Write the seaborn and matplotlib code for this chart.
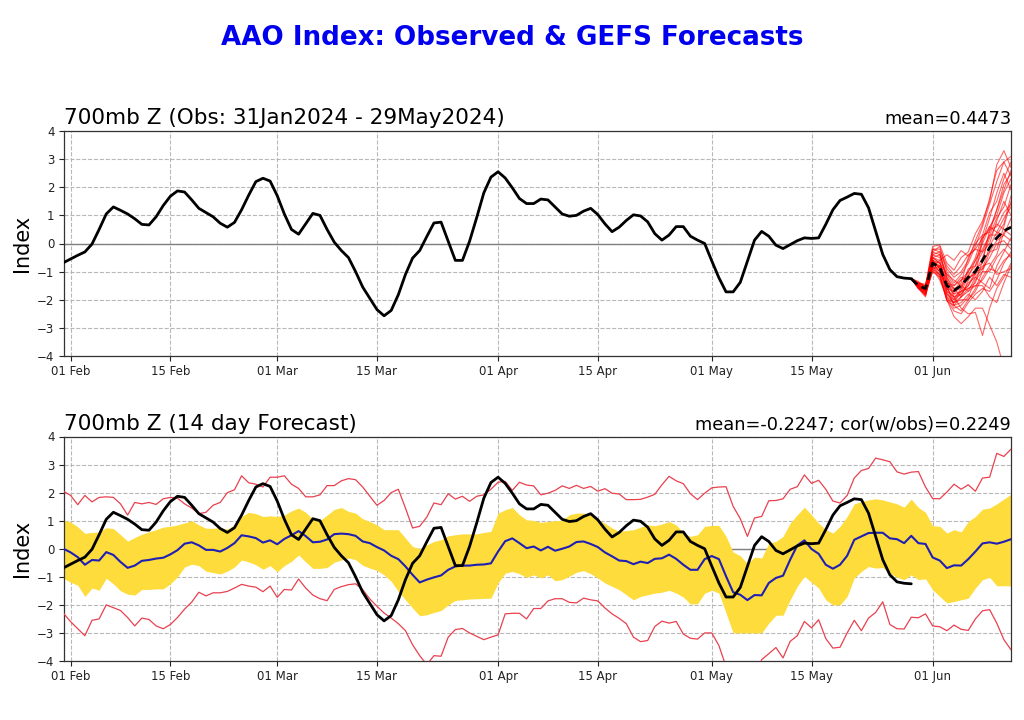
# AAO index: observed and GEFS forecasts

import matplotlib
matplotlib.use("Agg")
import matplotlib.pyplot as plt
import matplotlib.dates as mdates
import seaborn as sns
import pandas as pd

# daily values, first entry is 31 Jan 2024
obs = [-0.68, -0.55, -0.42, -0.3, -0.02, 0.5, 1.05, 1.3, 1.18, 1.05, 0.88, 0.68, 0.66, 0.95, 1.35, 1.68, 1.87, 1.83, 1.55, 1.25,
       1.1, 0.95, 0.72, 0.58, 0.75, 1.2, 1.72, 2.2, 2.32, 2.22, 1.7, 1.05, 0.5, 0.33, 0.7, 1.07, 1.0, 0.5, 0.05, -0.25,
       -0.5, -1.0, -1.55, -1.95, -2.35, -2.57, -2.38, -1.82, -1.1, -0.52, -0.25, 0.25, 0.73, 0.76, 0.08, -0.6, -0.6, 0.08, 0.92, 1.8,
       2.36, 2.55, 2.33, 1.98, 1.6, 1.42, 1.42, 1.58, 1.55, 1.3, 1.05, 0.97, 1.0, 1.15, 1.25, 1.03, 0.7, 0.42, 0.58, 0.82,
       1.02, 0.98, 0.77, 0.35, 0.12, 0.3, 0.6, 0.6, 0.26, 0.12, 0.0, -0.62, -1.22, -1.72, -1.72, -1.38, -0.63, 0.12, 0.43, 0.26,
       -0.06, -0.18, -0.04, 0.1, 0.2, 0.18, 0.2, 0.68, 1.2, 1.53, 1.65, 1.78, 1.75, 1.27, 0.44, -0.39, -0.93, -1.18, -1.23, -1.25]

fcst_mean = [0.0, -0.13, -0.3, -0.57, -0.4, -0.42, -0.12, -0.22, -0.47, -0.68, -0.6, -0.43, -0.4, -0.35, -0.32, -0.2, -0.05, 0.18, 0.23, 0.12,
             -0.04, -0.04, -0.1, 0.03, 0.2, 0.48, 0.44, 0.38, 0.22, 0.3, 0.16, 0.35, 0.48, 0.63, 0.45, 0.23, 0.25, 0.33, 0.52, 0.54,
             0.52, 0.46, 0.26, 0.2, 0.06, -0.06, -0.25, -0.37, -0.63, -0.93, -1.2, -1.1, -1.02, -0.95, -0.75, -0.63, -0.6, -0.6, -0.57, -0.56,
             -0.52, -0.1, 0.27, 0.37, 0.2, 0.02, 0.08, -0.06, 0.07, -0.07, 0.0, 0.08, 0.24, 0.26, 0.17, 0.06, -0.13, -0.27, -0.42, -0.44,
             -0.55, -0.46, -0.51, -0.36, -0.34, -0.21, -0.36, -0.57, -0.75, -0.75, -0.37, -0.26, -0.37, -0.98, -1.55, -1.64, -1.83, -1.65, -1.66, -1.22,
             -1.04, -0.96, -0.39, 0.12, 0.3, -0.01, -0.18, -0.57, -0.71, -0.57, -0.25, 0.32, 0.44, 0.56, 0.57, 0.57, 0.37, 0.34, 0.2, 0.46,
             0.2, 0.17, -0.31, -0.42, -0.69, -0.59, -0.6, -0.37, -0.1, 0.19, 0.23, 0.18, 0.25, 0.34]

fcst_max = [2.05, 1.9, 1.57, 1.9, 1.67, 1.83, 1.85, 1.83, 1.6, 1.2, 1.65, 1.6, 1.65, 1.58, 1.78, 1.83, 1.8, 1.6, 1.45, 1.25,
            1.3, 1.55, 1.65, 2.0, 2.1, 2.6, 2.35, 2.3, 2.2, 2.55, 2.55, 2.6, 2.3, 2.15, 1.85, 1.85, 1.92, 2.25, 2.25, 2.42,
            2.5, 2.46, 2.2, 1.87, 1.55, 1.72, 2.0, 2.12, 1.45, 0.74, 0.8, 1.13, 1.63, 1.57, 1.96, 1.77, 1.87, 1.69, 1.87, 1.92,
            2.12, 2.37, 2.4, 2.08, 2.37, 2.27, 2.24, 1.92, 1.98, 2.08, 2.24, 2.15, 2.26, 2.15, 2.22, 2.05, 2.14, 1.98, 1.95, 1.75,
            1.75, 1.76, 1.84, 1.94, 2.28, 2.58, 2.42, 2.32, 1.96, 1.75, 1.98, 2.17, 2.2, 2.21, 1.51, 1.07, 0.44, 1.1, 1.15, 1.71,
            1.72, 1.78, 2.12, 2.21, 2.63, 2.33, 2.44, 2.12, 1.7, 1.63, 1.9, 2.52, 2.79, 2.86, 3.23, 3.17, 3.1, 2.74, 2.66, 2.73,
            2.75, 2.2, 1.79, 1.78, 2.02, 2.3, 2.12, 2.28, 2.05, 2.52, 2.55, 3.4, 3.29, 3.55]

fcst_min = [-2.3, -2.6, -2.85, -3.1, -2.55, -2.5, -2.0, -2.1, -2.2, -2.45, -2.75, -2.47, -2.52, -2.75, -2.85, -2.7, -2.45, -2.15, -1.9, -1.55,
            -1.68, -1.57, -1.57, -1.52, -1.4, -1.27, -1.33, -1.37, -1.53, -1.33, -1.73, -1.45, -1.47, -1.08, -1.4, -1.65, -1.78, -1.85, -1.45, -1.35,
            -1.28, -1.25, -1.46, -1.79, -2.05, -2.29, -2.47, -2.67, -2.92, -3.42, -3.81, -4.13, -3.81, -3.83, -3.15, -2.88, -2.84, -3.0, -3.12, -3.24,
            -3.15, -3.07, -2.32, -2.3, -2.3, -2.5, -2.13, -2.13, -1.86, -1.78, -1.78, -1.91, -1.93, -1.76, -1.82, -1.86, -2.11, -2.32, -2.48, -2.67,
            -3.15, -3.31, -3.27, -2.77, -2.58, -2.65, -2.59, -3.04, -3.19, -3.22, -3.0, -3.0, -3.45, -4.2, -4.6, -5.0, -5.0, -4.8, -3.95, -3.74,
            -3.52, -3.89, -3.3, -3.1, -2.59, -2.82, -2.53, -3.2, -3.54, -3.51, -3.0, -2.55, -2.92, -2.47, -2.27, -1.89, -2.7, -2.85, -2.86, -2.44,
            -2.46, -2.32, -2.75, -2.78, -2.92, -2.72, -2.87, -2.91, -2.5, -2.21, -2.17, -2.65, -3.24, -3.6]

band_upper = [1.02, 0.95, 0.78, 0.55, 0.58, 0.6, 0.75, 0.72, 0.5, 0.27, 0.4, 0.52, 0.6, 0.68, 0.77, 0.8, 0.85, 0.92, 1.0, 0.85,
              0.73, 0.73, 0.75, 0.7, 0.85, 1.15, 1.3, 1.25, 1.15, 1.17, 1.15, 1.2, 1.35, 1.45, 1.3, 1.05, 1.0, 1.2, 1.4, 1.47,
              1.33, 1.27, 1.07, 0.97, 0.85, 0.68, 0.68, 0.68, 0.38, 0.08, 0.0, 0.14, 0.26, 0.32, 0.46, 0.5, 0.53, 0.53, 0.53, 0.58,
              0.62, 1.27, 1.39, 1.47, 1.21, 1.03, 1.01, 0.94, 0.97, 1.0, 1.01, 1.21, 1.27, 1.27, 1.21, 1.03, 0.91, 0.74, 0.62, 0.65,
              0.68, 0.77, 0.85, 0.82, 0.88, 0.97, 0.85, 0.56, 0.44, 0.5, 0.8, 0.83, 0.83, 0.44, -0.12, -0.25, -0.53, -0.3, -0.33, 0.2,
              0.26, 0.44, 0.91, 1.21, 1.48, 1.21, 0.91, 0.68, 0.56, 0.8, 1.15, 1.6, 1.68, 1.74, 1.78, 1.74, 1.67, 1.6, 1.48, 1.77,
              1.47, 1.3, 0.82, 0.8, 0.56, 0.68, 0.6, 0.97, 1.15, 1.41, 1.45, 1.6, 1.77, 1.94]

band_lower = [-1.05, -1.2, -1.3, -1.7, -1.4, -1.48, -1.05, -1.25, -1.5, -1.62, -1.65, -1.45, -1.45, -1.43, -1.43, -1.25, -1.0, -0.65, -0.55, -0.6,
              -0.8, -0.85, -0.9, -0.8, -0.65, -0.4, -0.47, -0.57, -0.73, -0.6, -0.82, -0.6, -0.45, -0.22, -0.47, -0.7, -0.7, -0.67, -0.48, -0.4,
              -0.33, -0.39, -0.59, -0.69, -0.77, -0.93, -1.16, -1.52, -1.82, -2.11, -2.39, -2.35, -2.27, -2.2, -2.0, -1.84, -1.82, -1.79, -1.78, -1.77,
              -1.76, -1.22, -0.87, -0.81, -0.89, -1.02, -0.93, -1.04, -0.93, -1.14, -1.1, -0.98, -0.84, -0.78, -0.89, -1.04, -1.22, -1.34, -1.46, -1.64,
              -1.82, -1.7, -1.64, -1.58, -1.55, -1.48, -1.58, -1.72, -1.97, -1.96, -1.58, -1.48, -1.58, -2.29, -3.0, -3.0, -3.0, -3.0, -3.0, -2.65,
              -2.37, -2.37, -1.82, -1.34, -0.98, -1.2, -1.4, -1.82, -2.0, -2.0, -1.7, -1.04, -0.81, -0.63, -0.69, -0.67, -0.87, -1.02, -1.1, -0.93,
              -1.1, -1.07, -1.46, -1.7, -1.93, -1.88, -1.82, -1.76, -1.4, -1.1, -1.02, -1.32, -1.32, -1.32]

# ensemble members and their mean, first entry is 29 May 2024
ens_mean = [-1.25, -1.5, -1.6, -0.7, -0.85, -1.5, -1.67, -1.5, -1.2, -1.0, -0.6, -0.15, 0.2, 0.45, 0.58]
members = [
    [-1.25, -1.4, -1.5, -0.1, -0.05, -0.7, -0.95, -0.5, -0.3, 0.35, 0.8, 1.5, 2.8, 3.3, 2.7],
    [-1.25, -1.45, -1.6, -0.3, -0.1, -1.0, -1.4, -1.1, -0.7, -0.1, 0.6, 1.4, 2.2, 2.9, 3.1],
    [-1.25, -1.5, -1.7, -0.5, -0.4, -1.2, -1.6, -1.5, -1.0, -0.5, 0.3, 1.1, 1.5, 2.3, 2.9],
    [-1.25, -1.35, -1.55, -0.4, -0.3, -1.3, -1.8, -1.4, -0.5, 0.0, 0.3, 0.4, 1.2, 1.9, 2.6],
    [-1.25, -1.6, -1.9, -0.8, -0.6, -0.4, -0.6, -0.25, -0.45, -0.2, -0.3, 0.3, 0.9, 1.3, 2.1],
    [-1.25, -1.5, -1.6, -0.6, -0.9, -1.6, -1.7, -1.3, -1.2, -0.6, -0.2, 0.3, 0.3, 0.7, 1.7],
    [-1.25, -1.55, -1.8, -0.7, -1.0, -1.8, -2.0, -1.6, -0.9, -0.8, 0.2, 0.6, 0.4, 0.3, 0.9],
    [-1.25, -1.45, -1.5, -0.5, -0.7, -1.4, -1.5, -1.2, -1.3, -1.0, -0.5, 0.2, 0.7, 0.5, 0.3],
    [-1.25, -1.5, -1.7, -0.9, -0.8, -1.7, -1.9, -1.8, -1.5, -1.0, -0.9, -0.1, 0.4, 0.9, 1.3],
    [-1.25, -1.6, -1.65, -0.8, -1.1, -1.9, -2.1, -1.9, -1.6, -1.4, -0.6, -0.3, 0.1, 0.3, 0.1],
    [-1.25, -1.4, -1.45, -0.6, -0.7, -1.1, -1.3, -1.5, -1.7, -1.2, -0.9, -0.5, 0.0, 0.1, -0.2],
    [-1.25, -1.5, -1.75, -1.0, -1.2, -2.0, -2.1, -2.0, -2.0, -1.7, -1.2, -0.8, -0.4, 0.4, 0.6],
    [-1.25, -1.55, -1.85, -0.9, -1.3, -1.9, -2.3, -2.2, -1.9, -1.3, -1.0, -1.0, -0.5, -0.2, -0.5],
    [-1.25, -1.5, -1.6, -0.7, -1.0, -1.6, -1.9, -2.3, -2.5, -2.45, -3.27, -2.3, -1.6, -1.2, -0.7],
    [-1.25, -1.45, -1.7, -0.8, -1.2, -2.0, -2.6, -2.85, -2.6, -2.3, -2.3, -2.9, -3.5, -4.4, -5.0],
    [-1.25, -1.6, -1.8, -1.0, -1.1, -2.0, -2.4, -2.5, -2.1, -1.8, -1.6, -1.7, -1.3, -0.7, -0.3],
    [-1.25, -1.5, -1.65, -0.6, -0.9, -1.7, -2.2, -2.1, -1.8, -2.0, -1.7, -1.2, -1.5, -1.1, -1.2],
    [-1.25, -1.4, -1.55, -0.5, -0.6, -1.5, -1.8, -1.7, -1.6, -1.5, -1.3, -0.9, -1.0, -0.6, -0.4],
    [-1.25, -1.55, -1.75, -0.7, -0.8, -1.6, -2.0, -1.8, -1.4, -1.2, -1.4, -1.6, -0.8, -0.3, 0.2],
    [-1.25, -1.5, -1.6, -0.4, -0.5, -1.2, -1.7, -1.6, -1.1, -0.8, -0.3, 0.0, 0.8, 1.5, 1.0],
    [-1.25, -1.45, -1.5, -0.3, -0.4, -1.1, -1.5, -1.3, -1.0, -0.6, 0.0, 0.6, 1.0, 1.8, 2.3],
    [-1.25, -1.5, -1.7, -0.8, -1.0, -1.5, -2.2, -2.4, -2.0, -1.6, -1.0, -0.3, -0.2, 0.6, 1.5],
    [-1.25, -1.6, -1.85, -0.6, -0.9, -1.4, -1.6, -1.9, -1.3, -0.9, -0.7, 0.5, 1.2, 2.1, 2.5],
    [-1.25, -1.45, -1.65, -0.5, -0.7, -1.3, -1.9, -1.7, -1.5, -1.1, 0.1, 0.9, 1.8, 2.5, 1.9],
    [-1.25, -1.5, -1.6, -0.2, -0.3, -0.9, -1.2, -1.0, -0.6, 0.1, 0.7, 1.6, 2.6, 2.9, 2.4],
    [-1.25, -1.4, -1.55, -0.2, -0.2, -0.8, -1.1, -0.8, -0.4, -0.2, 0.2, 0.5, 0.6, 1.1, 1.4],
    [-1.25, -1.55, -1.7, -0.6, -0.8, -1.8, -2.1, -1.7, -1.2, -1.1, -0.8, -0.7, -1.1, -1.0, -0.9],
    [-1.25, -1.5, -1.8, -0.9, -1.1, -2.05, -2.2, -1.9, -1.7, -1.5, -1.5, -1.9, -2.1, -1.4, -0.8],
]

days = pd.date_range("2024-01-31", "2024-06-12")
obs_days = days[:len(obs)]
ens_days = days[119:]
ticks = pd.to_datetime(["2024-02-01", "2024-02-15", "2024-03-01", "2024-03-15", "2024-04-01",
                        "2024-04-15", "2024-05-01", "2024-05-15", "2024-06-01"])

sns.set_style("ticks")
plt.rcParams["font.family"] = ["DejaVu Sans"]
plt.rcParams["text.color"] = "black"
plt.rcParams["axes.labelcolor"] = "black"
plt.rcParams["axes.titlecolor"] = "black"

fig = plt.figure(figsize=(10.24, 7.2), dpi=100)
ax1 = fig.add_axes([63.5 / 1024, 1 - 356 / 720, 947.5 / 1024, 225 / 720])
ax2 = fig.add_axes([63.5 / 1024, 1 - 661 / 720, 947.5 / 1024, 224.5 / 720])

fig.text(0.5, 1 - 38 / 720, "AAO Index: Observed & GEFS Forecasts", color="#0000ee",
         fontsize=18.8, fontweight="bold", ha="center", va="center")


def setup_axis(ax, left, right):
    ax.axhline(0, color="#808080", lw=1, zorder=1)
    ax.set_xlim(days[0], days[-1])
    ax.set_ylim(-4, 4)
    ax.set_yticks(range(-4, 5))
    ax.set_xticks(ticks)
    ax.xaxis.set_major_formatter(mdates.DateFormatter("%d %b"))
    ax.grid(True, color="#b8b8b8", ls="--", lw=0.8)
    ax.set_axisbelow(True)
    ax.tick_params(labelsize=8.5, length=3.5, width=0.8, colors="#222222", pad=3)
    ax.set_xlabel("")
    ax.set_ylabel("Index", fontsize=15, labelpad=4)
    ax.set_title(left, loc="left", fontsize=15.5, pad=5)
    ax.set_title(right, loc="right", fontsize=12.8, pad=5)
    for side in ax.spines.values():
        side.set_color("#333333")
        side.set_linewidth(0.9)


# top panel: observed and ensemble forecast
sns.lineplot(x=obs_days, y=obs, color="black", lw=2, ax=ax1, zorder=4)
for member in members:
    sns.lineplot(x=ens_days, y=member, color="red", lw=0.8, alpha=0.6, ax=ax1, zorder=3)
sns.lineplot(x=ens_days, y=ens_mean, color="black", lw=2, ax=ax1, zorder=5, linestyle=(0, (3, 1.8)))
setup_axis(ax1, "700mb Z (Obs: 31Jan2024 - 29May2024)", "mean=0.4473")

# bottom panel: 14 day forecast
ax2.fill_between(days, band_lower, band_upper, color="#fddc3c", lw=0, zorder=2)
sns.lineplot(x=days, y=fcst_max, color="#e8414f", lw=0.9, ax=ax2, zorder=3)
sns.lineplot(x=days, y=fcst_min, color="#e8414f", lw=0.9, ax=ax2, zorder=3)
sns.lineplot(x=days, y=fcst_mean, color="#1f1fb4", lw=1.5, ax=ax2, zorder=4)
sns.lineplot(x=obs_days, y=obs, color="black", lw=2, ax=ax2, zorder=5)
setup_axis(ax2, "700mb Z (14 day Forecast)", "mean=-0.2247; cor(w/obs)=0.2249")

fig.savefig("out.png", dpi=100)
